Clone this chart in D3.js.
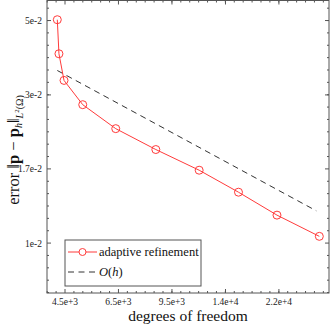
<!DOCTYPE html>
<html><head><meta charset="utf-8">
<script src="https://cdn.jsdelivr.net/npm/d3@7"></script>
<style>body{margin:0;background:#fff}svg{display:block}</style>
</head><body><svg id="c" width="332" height="326" font-family="'Liberation Serif', 'DejaVu Serif', 'Times New Roman', serif"></svg>
<script>
const dofs = [4250, 4302, 4467, 5132, 6556, 8828, 12174, 16300, 21685, 29690];
const errors = [0.0503, 0.03932, 0.03243, 0.02721, 0.02288, 0.01967, 0.01694, 0.01445, 0.01224, 0.01050];
const refDofs = [4250, 29030];
const refErrors = [0.03484, 0.01263];
const xTickValues = [4500, 6690, 9950, 14800, 22000];
const xTickLabels = ["4.5e+3", "6.5e+3", "9.5e+3", "1.4e+4", "2.2e+4"];
const yTickValues = [0.01, 0.0171, 0.0292, 0.05];
const yTickLabels = ["1e-2", "1.7e-2", "3e-2", "5e-2"];
const legendLabels = ["adaptive refinement", "O(h)"];

const svg = d3.select("#c");
const L = 47, R = 329, T = 0.5, B = 293;
const x = d3.scaleLog().domain([3937, 31900]).range([L, R]);
const y = d3.scaleLog().domain([0.00697, 0.0578]).range([B, T]);
const axisColor = "#555";

function minors(vals, scale){
  const out=[]; const lv=vals.map(Math.log10); const step=(lv[1]-lv[0])/6;
  const d=scale.domain().map(Math.log10);
  for(let v=lv[0]-step*12; v<=d[1]; v+=step){
    if(v<d[0]||v>d[1]) continue;
    if(lv.some(q=>Math.abs(q-v)<1e-6)) continue;
    out.push(Math.pow(10,v));
  }
  return out;
}
const xMin = minors(xTickValues, x), yMin = minors(yTickValues, y);
const g = svg.append("g");
g.append("rect").attr("x",L).attr("y",T).attr("width",R-L).attr("height",B-T)
 .attr("fill","none").attr("stroke",axisColor).attr("stroke-width",1);
xTickValues.forEach(v=>{const px=x(v);
  g.append("line").attr("x1",px).attr("x2",px).attr("y1",B).attr("y2",B-4).attr("stroke",axisColor);
  g.append("line").attr("x1",px).attr("x2",px).attr("y1",T).attr("y2",T+4).attr("stroke",axisColor);});
xMin.forEach(v=>{const px=x(v);
  g.append("line").attr("x1",px).attr("x2",px).attr("y1",B).attr("y2",B-2).attr("stroke",axisColor);
  g.append("line").attr("x1",px).attr("x2",px).attr("y1",T).attr("y2",T+2).attr("stroke",axisColor);});
yTickValues.forEach(v=>{const py=y(v);
  g.append("line").attr("y1",py).attr("y2",py).attr("x1",L).attr("x2",L+4).attr("stroke",axisColor);
  g.append("line").attr("y1",py).attr("y2",py).attr("x1",R).attr("x2",R-4).attr("stroke",axisColor);});
yMin.forEach(v=>{const py=y(v);
  g.append("line").attr("y1",py).attr("y2",py).attr("x1",L).attr("x2",L+2).attr("stroke",axisColor);
  g.append("line").attr("y1",py).attr("y2",py).attr("x1",R).attr("x2",R-2).attr("stroke",axisColor);});
xTickValues.forEach((v,i)=>g.append("text").attr("x",x(v)).attr("y",B+12).attr("text-anchor","middle")
  .attr("font-size",9.5).attr("fill","#222").text(xTickLabels[i]));
yTickValues.forEach((v,i)=>g.append("text").attr("x",L-5).attr("y",y(v)+3.5).attr("text-anchor","end")
  .attr("font-size",9.5).attr("fill","#222").text(yTickLabels[i]));

const line = d3.line().x(d=>x(d[0])).y(d=>y(d[1]));
svg.append("path").datum(refDofs.map((d,i)=>[d,refErrors[i]])).attr("d",line)
  .attr("fill","none").attr("stroke","#333").attr("stroke-width",1).attr("stroke-dasharray","6,4.5");
const red = "#ff3b3b";
svg.append("path").datum(dofs.map((d,i)=>[d,errors[i]])).attr("d",line)
  .attr("fill","none").attr("stroke",red).attr("stroke-width",1);
svg.selectAll("circle.pt").data(dofs.map((d,i)=>[d,errors[i]])).enter().append("circle")
  .attr("cx",d=>x(d[0])).attr("cy",d=>y(d[1])).attr("r",4).attr("fill","none").attr("stroke",red).attr("stroke-width",1);

const lg = svg.append("g");
lg.append("rect").attr("x",65).attr("y",240).attr("width",136).attr("height",46).attr("fill","#fff").attr("stroke",axisColor);
lg.append("line").attr("x1",68).attr("x2",97).attr("y1",252).attr("y2",252).attr("stroke",red);
lg.append("circle").attr("cx",82.5).attr("cy",252).attr("r",3.5).attr("fill","#fff").attr("stroke",red);
lg.append("text").attr("x",99).attr("y",256).attr("font-size",12.5).attr("fill","#111").text(legendLabels[0]);
lg.append("line").attr("x1",68).attr("x2",97).attr("y1",272).attr("y2",272).attr("stroke","#333").attr("stroke-dasharray","6,4.5");
const t2 = lg.append("text").attr("x",99).attr("y",276).attr("font-size",12.5).attr("fill","#111");
t2.append("tspan").attr("font-style","italic").text("O");
t2.append("tspan").text("(");
t2.append("tspan").attr("font-style","italic").text("h");
t2.append("tspan").text(")");

svg.append("text").attr("x",188).attr("y",321).attr("text-anchor","middle").attr("font-size",15.5).attr("fill","#111").text("degrees of freedom");
const yl = svg.append("text").attr("transform","translate(19,150) rotate(-90)").attr("text-anchor","middle").attr("font-size",16.5).attr("fill","#111");
yl.append("tspan").text("error ‖");
yl.append("tspan").attr("font-weight","bold").text("p");
yl.append("tspan").text(" − ");
yl.append("tspan").attr("font-weight","bold").text("p");
yl.append("tspan").attr("font-size",10).attr("font-style","italic").attr("dy",3).text("h");
yl.append("tspan").attr("dy",-3).text("‖");
yl.append("tspan").attr("font-size",10).attr("dy",4).attr("font-style","italic").text("L");
yl.append("tspan").attr("font-size",7).attr("dy",-4).text("2");
yl.append("tspan").attr("font-size",10).attr("dy",4).text("(Ω)");
</script></body></html>
